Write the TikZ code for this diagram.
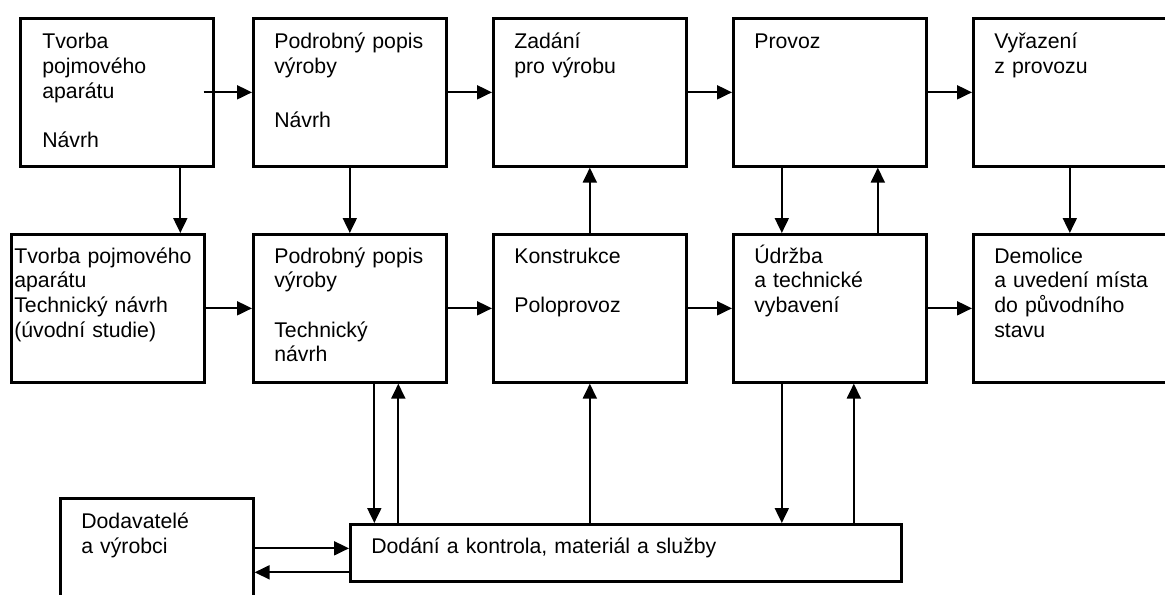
\documentclass[tikz,border=0pt]{standalone}
\usepackage{fontspec}
\setmainfont{Liberation Sans}
\usetikzlibrary{arrows.meta, positioning, calc}
\tikzset{
  every picture/.style={font=\fontsize{12.1}{14}\selectfont, line width=1.1pt},
  box/.style={draw, line width=1.5pt, anchor=north west, align=left, inner ysep=0pt, inner xsep=0.42cm, text width=3.02cm, text height=0.61cm, text depth=2.35cm},
  arrow/.style={-{Triangle[length=0.3cm, width=0.28cm]}, line width=1.1pt},
}

\begin{document}
\begin{tikzpicture}
  \clip (0,0) rectangle (23.3,-11.88);
  \node[box, inner xsep=0.44cm, text width=2.98cm] (a1) at (0.38,-0.34) {Tvorba\\ pojmového\\ aparátu\\[14pt] Návrh};
  \node[box] (a2) at (5.04,-0.34) {Podrobný~popis\\ výroby\\[17pt] Návrh};
  \node[box] (a3) at (9.84,-0.34) {Zadání\\ pro výrobu};
  \node[box] (a4) at (14.64,-0.34) {Provoz};
  \node[box] (a5) at (19.44,-0.34) {Vyřazení\\ z provozu};
  \node[box, inner xsep=0.06cm, text width=3.74cm, text height=0.58cm, text depth=2.38cm] (b1) at (0.2,-4.66) {Tvorba pojmového\\ aparátu\\ Technický návrh\\ (úvodní studie)};
  \node[box, text height=0.58cm, text depth=2.38cm] (b2) at (5.04,-4.66) {Podrobný~popis\\ výroby\\[14pt] Technický\\ návrh};
  \node[box, text height=0.58cm, text depth=2.38cm] (b3) at (9.84,-4.66) {Konstrukce\\[14pt] Poloprovoz};
  \node[box, text height=0.58cm, text depth=2.38cm] (b4) at (14.64,-4.66) {Údržba\\ a technické\\ vybavení};
  \node[box, text width=3.3cm, text height=0.58cm, text depth=2.38cm] (b5) at (19.44,-4.66) {Demolice\\ a uvedení místa\\ do původního\\ stavu};
  \node[box, text depth=1.6cm] (dod) at (1.18,-9.94) {Dodavatelé\\ a výrobci};
  \node[box, text width=10.18cm, text height=0.58cm, text depth=0.56cm] (d) at (6.98,-10.46) {Dodání a kontrola, materiál a služby};

  \draw[arrow] ([xshift=-0.22cm]a1.east) -- (a2.west);
  \draw[arrow] (a2.east) -- (a3.west);
  \draw[arrow] (a3.east) -- (a4.west);
  \draw[arrow] (a4.east) -- (a5.west);
  \draw[arrow] (b1.east) -- (b2.west);
  \draw[arrow] (b2.east) -- (b3.west);
  \draw[arrow] (b3.east) -- (b4.west);
  \draw[arrow] (b4.east) -- (b5.west);

  \draw[arrow] ([xshift=1.27cm]a1.south) -- ([xshift=1.27cm]a1.south |- b1.north);
  \draw[arrow] (a2.south) -- (b2.north);
  \draw[arrow] (b3.north) -- (a3.south);
  \draw[arrow] ([xshift=-0.96cm]a4.south) -- ([xshift=-0.96cm]a4.south |- b4.north);
  \draw[arrow] ([xshift=0.96cm]b4.north) -- ([xshift=0.96cm]b4.north |- a4.south);
  \draw[arrow] (a5.south) -- (a5.south |- b5.north);

  \draw[arrow] ([xshift=0.49cm]b2.south) -- ([xshift=0.49cm]b2.south |- d.north);
  \draw[arrow] ([xshift=0.97cm]b2.south |- d.north) -- ([xshift=0.97cm]b2.south);
  \draw[arrow] (b3.south |- d.north) -- (b3.south);
  \draw[arrow] ([xshift=-0.96cm]b4.south) -- ([xshift=-0.96cm]b4.south |- d.north);
  \draw[arrow] ([xshift=0.48cm]b4.south |- d.north) -- ([xshift=0.48cm]b4.south);
  \draw[arrow] ([yshift=0.09cm]d.west -| dod.east) -- ([yshift=0.09cm]d.west);
  \draw[arrow] ([yshift=-0.39cm]d.west) -- ([yshift=-0.39cm]d.west -| dod.east);
\end{tikzpicture}
\end{document}
